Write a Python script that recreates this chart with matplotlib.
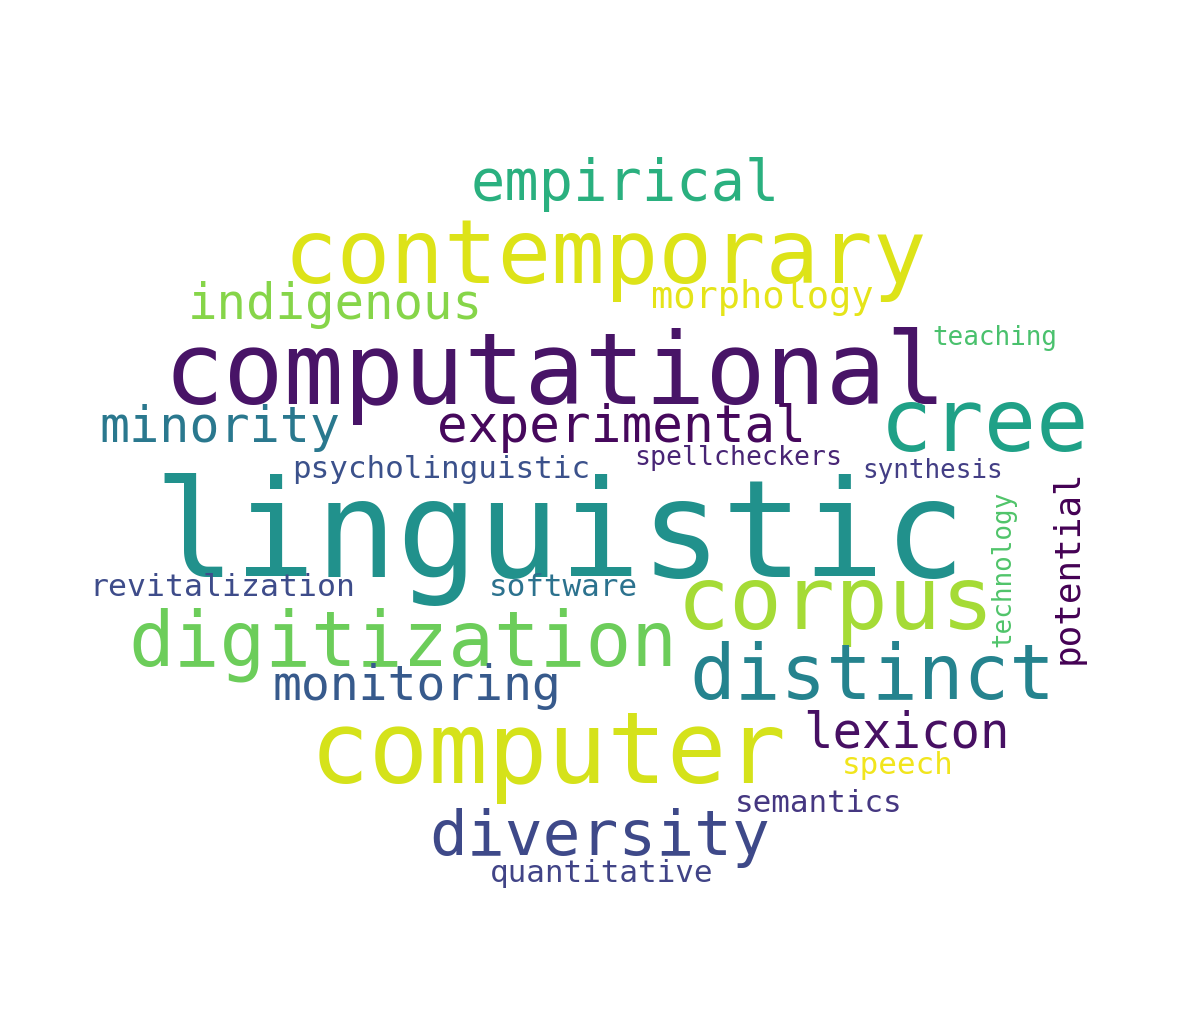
import matplotlib
matplotlib.use('Agg')
import matplotlib.pyplot as plt

# word cloud data: word, font size in pixels, colour
words = ["linguistic", "computational", "contemporary", "cree", "corpus", "computer",
         "digitization", "distinct", "diversity", "empirical", "indigenous", "morphology",
         "minority", "experimental", "monitoring", "lexicon", "psycholinguistic",
         "spellcheckers", "synthesis", "teaching", "revitalization", "software",
         "speech", "semantics", "quantitative", "technology", "potential"]
sizes_px = [135, 100, 89, 87, 88, 99, 76, 76, 63, 57, 49, 37, 50, 51, 48, 49, 31,
            26.5, 26, 26, 31.5, 31, 31, 31, 31, 26, 36]
colors = ["#21918c", "#481467", "#dde318", "#1fa187", "#a5db36", "#d5e21a",
          "#6ccd5a", "#25838e", "#3e4989", "#2ab07f", "#86d549", "#e5e419",
          "#2a788e", "#46085c", "#375a8c", "#471063", "#3b518b",
          "#482575", "#433e85", "#4ac16d", "#3e4c8a", "#2c728e",
          "#f1e51d", "#453781", "#414487", "#50c46a", "#440154"]

# layout (pixel centres of each word) and rotation
layout_x = [560, 555, 605, 985, 836, 548, 403, 872, 600, 625, 335, 762, 220, 621,
            417, 906, 441, 738, 933, 995, 222, 563, 898, 819, 602, 1003, 1068]
layout_y = [540, 376, 259, 427, 605, 755, 645, 678, 838, 185, 305, 297, 428, 428,
            687, 733, 470, 458, 471, 338, 588, 588, 765, 803, 873, 569, 567]
rotation = [0] * 25 + [90, 90]

fig = plt.figure(figsize=(11.9, 10.28), dpi=100)
ax = fig.add_axes([0, 0, 1, 1])
ax.set_xlim(0, 1190)
ax.set_ylim(1028, 0)
ax.axis('off')

for w, s, c, x, y, r in zip(words, sizes_px, colors, layout_x, layout_y, rotation):
    ax.text(x, y, w, fontsize=s * 0.72, color=c, ha='center', va='center',
            rotation=r, family='DejaVu Sans Mono')

plt.savefig("out.png", dpi=100, facecolor='white')
plt.close()
